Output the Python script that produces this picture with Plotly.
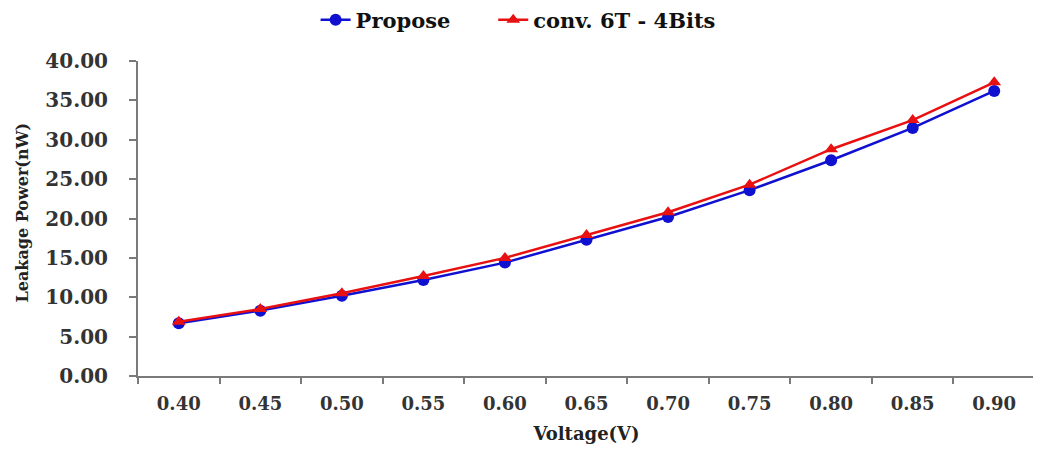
import plotly.graph_objects as go

voltage = ["0.40", "0.45", "0.50", "0.55", "0.60", "0.65", "0.70", "0.75", "0.80", "0.85", "0.90"]
propose = [6.7, 8.3, 10.2, 12.2, 14.4, 17.3, 20.2, 23.6, 27.4, 31.5, 36.2]
conv_6t = [6.9, 8.5, 10.5, 12.7, 15.0, 17.9, 20.8, 24.3, 28.8, 32.5, 37.3]

font_family = "DejaVu Serif, Liberation Serif, serif"
legend_font = dict(size=21, family=font_family, color="#111", weight="bold")

fig = go.Figure()
fig.add_trace(go.Scatter(
    x=voltage, y=propose, name="Propose", mode="lines+markers",
    line=dict(color="#1010d0", width=2.5),
    marker=dict(symbol="circle", size=12, color="#1010d0"),
    legend="legend",
))
fig.add_trace(go.Scatter(
    x=voltage, y=conv_6t, name="conv. 6T - 4Bits", mode="lines+markers",
    line=dict(color="#e81010", width=2.5),
    marker=dict(symbol="triangle-up", size=12, color="#e81010"),
    legend="legend2",
))

fig.update_layout(
    width=1041, height=451,
    paper_bgcolor="white", plot_bgcolor="white",
    margin=dict(l=130, r=14, t=53, b=83, autoexpand=False),
    font=dict(family=font_family, size=17, color="#222"),
    legend=dict(orientation="h", x=0.198, xanchor="left", y=0.973, yref="container",
                yanchor="middle", font=legend_font),
    legend2=dict(orientation="h", x=0.396, xanchor="left", y=0.973, yref="container",
                 yanchor="middle", font=legend_font),
    showlegend=True,
    annotations=[dict(
        text="<b>Leakage Power(nW)</b>", xref="paper", yref="paper",
        x=-0.129, y=0.52, xanchor="center", yanchor="middle", textangle=-90,
        showarrow=False, font=dict(size=16, family=font_family, color="#222"),
    )],
)
fig.update_xaxes(
    type="category", range=[-0.5, 10.5], showline=True, linecolor="#7a7a7a", linewidth=2,
    ticks="outside", ticklen=6, tickcolor="#7a7a7a", tickwidth=2, tickson="boundaries",
    showgrid=False, zeroline=False, automargin=False, ticklabelstandoff=10,
    tickfont=dict(size=18, family=font_family, color="#333", weight="bold"),
    title=dict(text="<b>Voltage(V)</b>", font=dict(size=18, family=font_family, color="#222"), standoff=15),
)
fig.update_yaxes(
    range=[0, 40], tickvals=[0, 5, 10, 15, 20, 25, 30, 35, 40],
    ticktext=["0.00", "5.00", "10.00", "15.00", "20.00", "25.00", "30.00", "35.00", "40.00"],
    showline=True, linecolor="#7a7a7a", linewidth=2,
    ticks="outside", ticklen=7, tickcolor="#7a7a7a", tickwidth=2,
    showgrid=False, zeroline=False, automargin=False, ticklabelstandoff=17,
    tickfont=dict(size=20, family=font_family, color="#333", weight="bold"),
)

fig.write_html("out.html")
